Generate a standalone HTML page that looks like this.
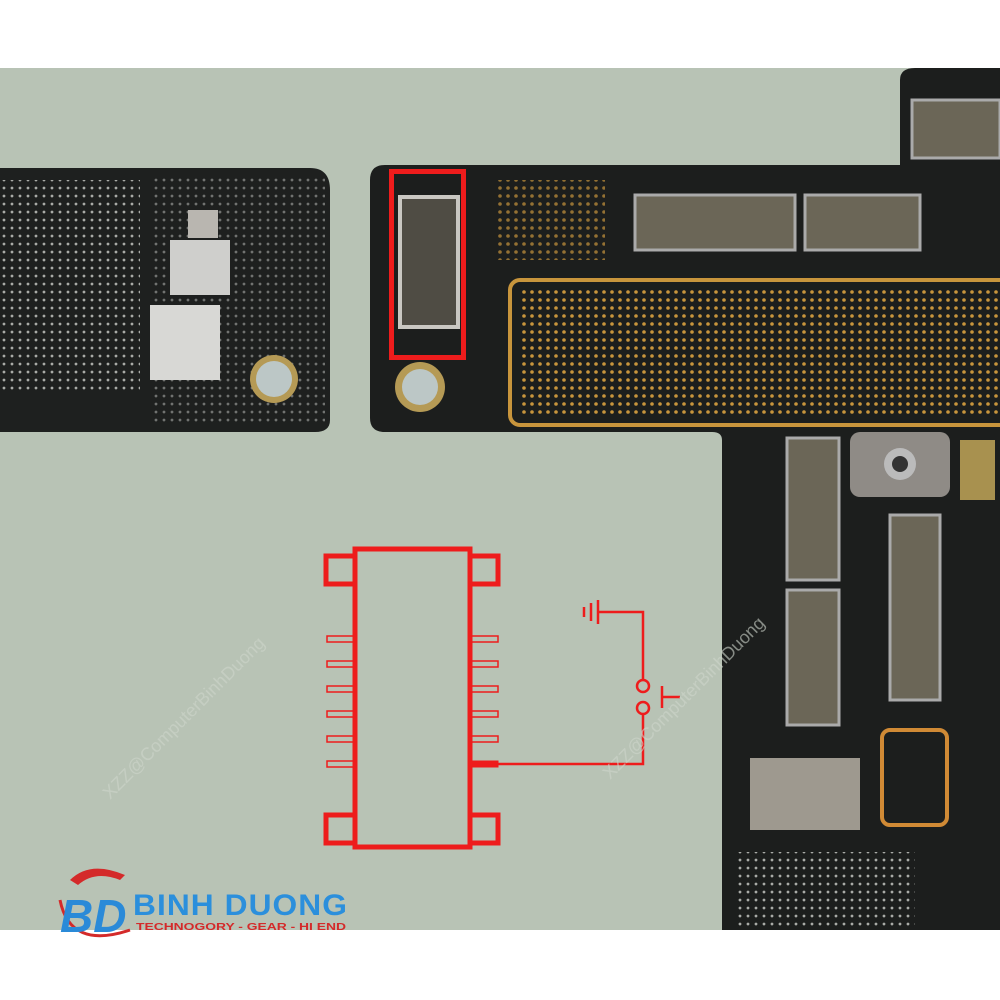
<!DOCTYPE html>
<html><head><meta charset="utf-8">
<style>
html,body{margin:0;padding:0;}
body{width:1000px;height:1000px;position:relative;overflow:hidden;background:#fff;font-family:"Liberation Sans",sans-serif;}
.abs{position:absolute;}
</style></head>
<body>
<div class="abs" style="left:0;top:68px;width:1000px;height:862px;background:#b8c3b5;"></div>
<svg class="abs" style="left:0;top:0" width="1000" height="1000" viewBox="0 0 1000 1000">
<defs>
<pattern id="dots" width="8" height="8" patternUnits="userSpaceOnUse"><circle cx="4" cy="4" r="1.4" fill="#a9aba7"/></pattern>
<pattern id="gdots" width="8" height="8" patternUnits="userSpaceOnUse"><circle cx="4" cy="4" r="1.8" fill="#c8953c"/></pattern>
</defs>
<path d="M0 168 H310 Q330 168 330 190 V420 Q330 432 315 432 H0 Z" fill="#1e201f"/>
<rect x="0" y="180" width="140" height="210" fill="url(#dots)"/>
<rect x="150" y="175" width="175" height="250" fill="url(#dots)" opacity="0.6"/>
<rect x="170" y="240" width="60" height="55" fill="#cfcfcc"/>
<rect x="150" y="305" width="70" height="75" fill="#d8d8d5"/>
<rect x="188" y="210" width="30" height="28" fill="#b9b6b0"/>
<circle cx="274" cy="379" r="24" fill="#b59a55"/><circle cx="274" cy="379" r="18" fill="#bcc7c6"/>
<path d="M385 165 H900 V80 Q900 68 915 68 H1000 V930 H722 V440 Q722 432 712 432 H385 Q370 432 370 418 V180 Q370 165 385 165 Z" fill="#1c1e1d"/>
<rect x="510" y="280" width="500" height="145" rx="10" fill="none" stroke="#c8953c" stroke-width="4"/>
<rect x="520" y="290" width="490" height="125" fill="url(#gdots)"/>
<rect x="495" y="180" width="110" height="80" fill="url(#gdots)" opacity="0.7"/>
<rect x="635" y="195" width="160" height="55" fill="#6b6657" stroke="#aaa" stroke-width="3"/>
<rect x="805" y="195" width="115" height="55" fill="#6b6657" stroke="#aaa" stroke-width="3"/>
<rect x="912" y="100" width="88" height="58" fill="#6b6657" stroke="#aaa" stroke-width="3"/>
<rect x="400" y="197" width="58" height="130" fill="#4f4c44" stroke="#c9c7c2" stroke-width="4"/>
<circle cx="420" cy="387" r="25" fill="#b59a55"/><circle cx="420" cy="387" r="18" fill="#bcc7c6"/>
<rect x="787" y="438" width="52" height="142" fill="#6b6657" stroke="#aaa" stroke-width="3"/>
<rect x="787" y="590" width="52" height="135" fill="#6b6657" stroke="#aaa" stroke-width="3"/>
<rect x="890" y="515" width="50" height="185" fill="#6b6657" stroke="#aaa" stroke-width="3"/>
<rect x="850" y="432" width="100" height="65" rx="10" fill="#8f8b86"/>
<circle cx="900" cy="464" r="16" fill="#bbb"/><circle cx="900" cy="464" r="8" fill="#333"/>
<rect x="750" y="758" width="110" height="72" fill="#9e998f"/>
<rect x="882" y="730" width="65" height="95" rx="8" fill="none" stroke="#d08a35" stroke-width="4"/>
<rect x="735" y="852" width="180" height="78" fill="url(#dots)"/>
<rect x="960" y="440" width="35" height="60" fill="#a8914f"/>
<rect x="391.5" y="171.5" width="72" height="186" fill="none" stroke="#ee1c1c" stroke-width="5"/>
<g stroke="#ee1c1c" fill="none">
<rect x="355" y="549" width="115" height="298" stroke-width="5"/>
<rect x="326" y="556" width="29" height="28" stroke-width="5"/>
<rect x="470" y="556" width="28" height="28" stroke-width="5"/>
<rect x="326" y="815" width="29" height="28" stroke-width="5"/>
<rect x="470" y="815" width="28" height="28" stroke-width="5"/>
<g stroke-width="1.5">
<rect x="327" y="636" width="28" height="6"/><rect x="327" y="661" width="28" height="6"/><rect x="327" y="686" width="28" height="6"/><rect x="327" y="711" width="28" height="6"/><rect x="327" y="736" width="28" height="6"/><rect x="327" y="761" width="28" height="6"/>
<rect x="470" y="636" width="28" height="6"/><rect x="470" y="661" width="28" height="6"/><rect x="470" y="686" width="28" height="6"/><rect x="470" y="711" width="28" height="6"/><rect x="470" y="736" width="28" height="6"/>
</g>
<rect x="470" y="761" width="28" height="6" fill="#ee1c1c"/>
<polyline points="498,764 643,764 643,714" stroke-width="2.5"/>
<polyline points="643,680 643,612 598,612" stroke-width="2.5"/>
<line x1="598" y1="600" x2="598" y2="624" stroke-width="2.5"/>
<line x1="591" y1="603" x2="591" y2="621" stroke-width="2.5"/>
<line x1="584" y1="607" x2="584" y2="617" stroke-width="2.5"/>
<circle cx="643" cy="686" r="6" stroke-width="2.5"/>
<circle cx="643" cy="708" r="6" stroke-width="2.5"/>
<line x1="662" y1="697" x2="680" y2="697" stroke-width="2.5"/>
<line x1="662" y1="686" x2="662" y2="708" stroke-width="2.5"/>
</g>
<text x="110" y="800" transform="rotate(-45 110 800)" font-size="18" fill="#cfd6cc" opacity="0.6">XZZ@ComputerBinhDuong</text>
<text x="610" y="780" transform="rotate(-45 610 780)" font-size="18" fill="#cfd6cc" opacity="0.6">XZZ@ComputerBinhDuong</text>
<path d="M70 880 Q90 860 125 875 L120 880 Q95 870 78 885 Z" fill="#d42a2a"/>
<path d="M60 900 Q70 950 130 930" fill="none" stroke="#d42a2a" stroke-width="3"/>
<text x="60" y="932" font-size="46" font-weight="bold" fill="#2a8ad8" font-style="italic">BD</text>
<text x="133" y="915" font-size="30" font-weight="bold" fill="#2b8fdc" letter-spacing="1" textLength="215" lengthAdjust="spacingAndGlyphs">BINH DUONG</text>
<text x="136" y="930" font-size="10" font-weight="bold" fill="#d42a2a" textLength="210" lengthAdjust="spacingAndGlyphs">TECHNOGORY - GEAR - HI END</text>
</svg>
</body></html>
